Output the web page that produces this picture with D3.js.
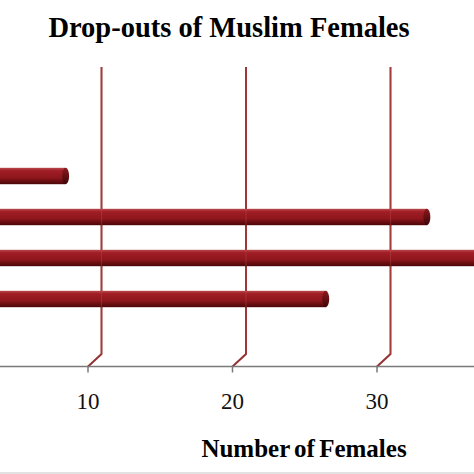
<!DOCTYPE html>
<html>
<meta charset="UTF-8">
<style>
body { margin: 0; background: #fff; }
svg { display: block; }
.title { font-family: "Liberation Serif", "Times New Roman", serif; font-weight: bold; }
.tick text { font-family: "Liberation Serif", "Times New Roman", serif; }
</style>
<svg width="474" height="474"></svg>
<script src="https://d3js.org/d3.v7.min.js"></script>
<script>
//	data (category labels sit off the visible area, left of the crop)
var categories = ["C1", "C2", "C3", "C4", "C5", "C6", "C7"];
var values = [0, 0, 8, 33, 38, 26, 0];
var tickValues = [10, 20, 30];

var svg = d3.select("svg");

//	3d depth of the plot (back wall sits up and to the right)
var depthX = 14, depthY = -13;

//	scales for the front plane
var x = d3.scaleLinear().domain([0, 40]).range([-57, 521]);
var y = d3.scaleBand().domain(categories).range([80, 367]).paddingInner(0).paddingOuter(0);
var barH = y.bandwidth() / 2.5;

var defs = svg.append("defs");
var grad = defs.append("linearGradient")
	.attr("id", "cyl").attr("x1", 0).attr("y1", 0).attr("x2", 0).attr("y2", 1);
grad.append("stop").attr("offset", "0%").attr("stop-color", "#b8494c");
grad.append("stop").attr("offset", "18%").attr("stop-color", "#a01e25");
grad.append("stop").attr("offset", "60%").attr("stop-color", "#8e161c");
grad.append("stop").attr("offset", "100%").attr("stop-color", "#4a0608");

var capGrad = defs.append("linearGradient")
	.attr("id", "cap").attr("x1", 0).attr("y1", 0).attr("x2", 0).attr("y2", 1);
capGrad.append("stop").attr("offset", "0%").attr("stop-color", "#8a1a1e");
capGrad.append("stop").attr("offset", "100%").attr("stop-color", "#3e0507");

//	title
svg.append("text")
	.attr("class", "title")
	.attr("x", 229).attr("y", 37)
	.attr("text-anchor", "middle")
	.style("font-size", "28.5px")
	.text("Drop-outs of Muslim Females");

//	gridlines on the back wall with the floor diagonal
var grid = svg.append("g");
grid.selectAll("path")
	.data(tickValues)
	.enter().append("path")
	.attr("fill", "none")
	.attr("stroke", "#953232")
	.attr("stroke-width", 2)
	.attr("d", function(d) {
		return "M" + (x(d) + depthX) + "," + (y.range()[0] + depthY) +
			"L" + (x(d) + depthX) + "," + (y.range()[1] + depthY) +
			"L" + x(d) + "," + y.range()[1];
	});

//	bars (cylinders at mid depth)
var bars = svg.append("g")
	.selectAll("g")
	.data(values.map(function(v, i) { return {cat: categories[i], value: v}; }).filter(function(d) { return d.value > 0; }))
	.enter().append("g");

function barY(d) { return y(d.cat) + y.bandwidth() / 2 + depthY / 2 - barH / 2; }
function barEnd(d) { return x(d.value) + depthX / 2; }

bars.append("rect")
	.attr("x", x(0) + depthX / 2)
	.attr("y", barY)
	.attr("width", function(d) { return barEnd(d) - (x(0) + depthX / 2); })
	.attr("height", barH)
	.attr("fill", "url(#cyl)");

bars.append("ellipse")
	.attr("cx", barEnd)
	.attr("cy", function(d) { return barY(d) + barH / 2; })
	.attr("rx", 3.5)
	.attr("ry", barH / 2)
	.attr("fill", "url(#cap)");

//	faint gridline showing through the bars
svg.append("g").selectAll("line")
	.data(tickValues)
	.enter().append("line")
	.attr("x1", function(d) { return x(d) + depthX; })
	.attr("x2", function(d) { return x(d) + depthX; })
	.attr("y1", y.range()[0] + depthY)
	.attr("y2", y.range()[1] + depthY)
	.attr("stroke", "#c05050")
	.attr("stroke-width", 1.2)
	.attr("opacity", 0.35);

//	x axis
var axis = svg.append("g")
	.attr("transform", "translate(0," + 366.5 + ")")
	.call(d3.axisBottom(x).tickValues(tickValues).tickSize(6).tickPadding(20).tickSizeOuter(0));
axis.select(".domain").attr("stroke", "#7a7a7a").attr("stroke-width", 1.5)
	.attr("d", "M0,0H474");
axis.selectAll(".tick line").attr("stroke", "#7a7a7a").attr("stroke-width", 1.5);
axis.selectAll(".tick text")
	.style("font-size", "23px")
	.attr("fill", "#111");

//	axis title
svg.append("text")
	.attr("class", "title")
	.attr("x", 304).attr("y", 457)
	.attr("text-anchor", "middle")
	.style("font-size", "25px")
	.style("word-spacing", "-2px")
	.text("Number of Females");

//	grey strip at the bottom edge
svg.append("rect").attr("x", 0).attr("y", 472).attr("width", 474).attr("height", 2).attr("fill", "#e2e2e2");
</script>
</html>
